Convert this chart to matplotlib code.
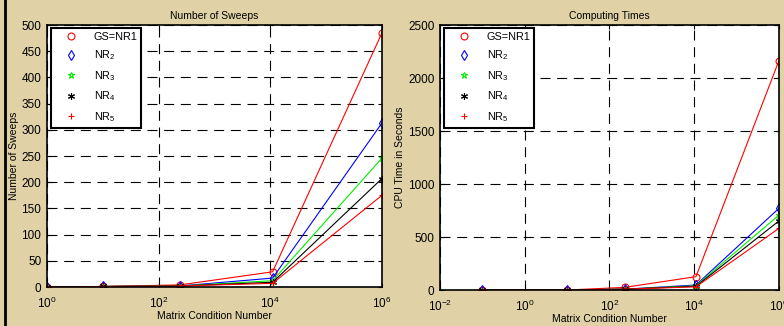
import matplotlib
matplotlib.use("Agg")
from matplotlib import pyplot as plt
from matplotlib.lines import Line2D
import numpy as np

plt.rcParams['font.family'] = ['Liberation Sans', 'DejaVu Sans']
plt.rcParams['mathtext.fontset'] = 'custom'
plt.rcParams['mathtext.rm'] = 'Liberation Sans'

# datos
cond_sweeps = [1, 10, 240, 1.1e4, 1e6]
cond_times = [0.1, 10, 230, 1.1e4, 1e6]

labels = ['GS=NR1', 'NR$_2$', 'NR$_3$', 'NR$_4$', 'NR$_5$']

sweeps_gs = [0, 1, 4, 29, 485]
sweeps_nr2 = [0, 1, 2, 17, 313]
sweeps_nr3 = [0, 1, 2, 12, 246]
sweeps_nr4 = [0, 1, 2, 9, 207]
sweeps_nr5 = [0, 1, 2, 7, 175]

times_gs = [0, 0, 25, 126, 2165]
times_nr2 = [0, 0, 8, 47, 771]
times_nr3 = [0, 0, 8, 40, 707]
times_nr4 = [0, 0, 8, 35, 652]
times_nr5 = [0, 0, 8, 30, 582]

colores = ['red', 'blue', '#00ee00', 'black', 'red']
marcadores = ['o', 'd', '*', (6, 2, 0), '+']

fondo = '#E0D2A6'

fig = plt.figure(figsize=(7.84, 3.26), dpi=100, facecolor=fondo)
ax1 = fig.add_axes([0.0599, 0.1196, 0.4273, 0.8037])
ax2 = fig.add_axes([0.5612, 0.1104, 0.4324, 0.8129])

def dibujar(ax, x, series, titulo, ylabel, xlim, ylim, yticks, xticks):
  for y, c, m in zip(series, colores, marcadores):
    ax.plot(x, y, color=c, lw=0.8, marker=m, markersize=5, mfc='none', mec=c, mew=0.8)
  ax.set_xscale('log')
  ax.set_xlim(xlim)
  ax.set_ylim(ylim)
  ax.set_yticks(yticks)
  ax.set_xticks(xticks)
  ax.xaxis.set_minor_locator(matplotlib.ticker.NullLocator())
  ax.grid(True, color='black', linestyle=(0, (9, 6)), lw=0.8)
  ax.tick_params(direction='in', length=3, labelsize=8.5, top=True, right=True)
  ax.tick_params(axis='x', pad=6)
  ax.tick_params(axis='y', pad=4)
  for s in ax.spines.values():
    s.set_linewidth(1.2)
  ax.set_title(titulo, fontsize=7.5, pad=4)
  ax.set_xlabel('Matrix Condition Number', fontsize=7.5, labelpad=0)
  ax.set_ylabel(ylabel, fontsize=7.5, labelpad=2)
  handles = [Line2D([], [], ls='none', marker=m, color=c, mfc='none', mew=0.8, markersize=5)
             for c, m in zip(colores, marcadores)]
  leg = ax.legend(handles, labels, loc='upper left', bbox_to_anchor=(0.005, 0.997),
                  fontsize=7.8, fancybox=False, framealpha=1, edgecolor='black',
                  handlelength=3.0, handletextpad=0.6, labelspacing=0.62,
                  borderpad=0.35, borderaxespad=0.2)
  leg.get_frame().set_linewidth(1.5)

dibujar(ax1, cond_sweeps, [sweeps_gs, sweeps_nr2, sweeps_nr3, sweeps_nr4, sweeps_nr5],
        'Number of Sweeps', 'Number of Sweeps', (1, 1e6), (0, 500),
        np.arange(0, 501, 50), [1, 1e2, 1e4, 1e6])
dibujar(ax2, cond_times, [times_gs, times_nr2, times_nr3, times_nr4, times_nr5],
        'Computing Times', 'CPU Time in Seconds', (1e-2, 1e6), (0, 2500),
        np.arange(0, 2501, 500), [1e-2, 1, 1e2, 1e4, 1e6])

# borde negro a la izquierda
fig.add_artist(Line2D([0.0065, 0.0065], [0, 1], color='black', lw=2))

fig.savefig('out.png', dpi=100, facecolor=fondo)
